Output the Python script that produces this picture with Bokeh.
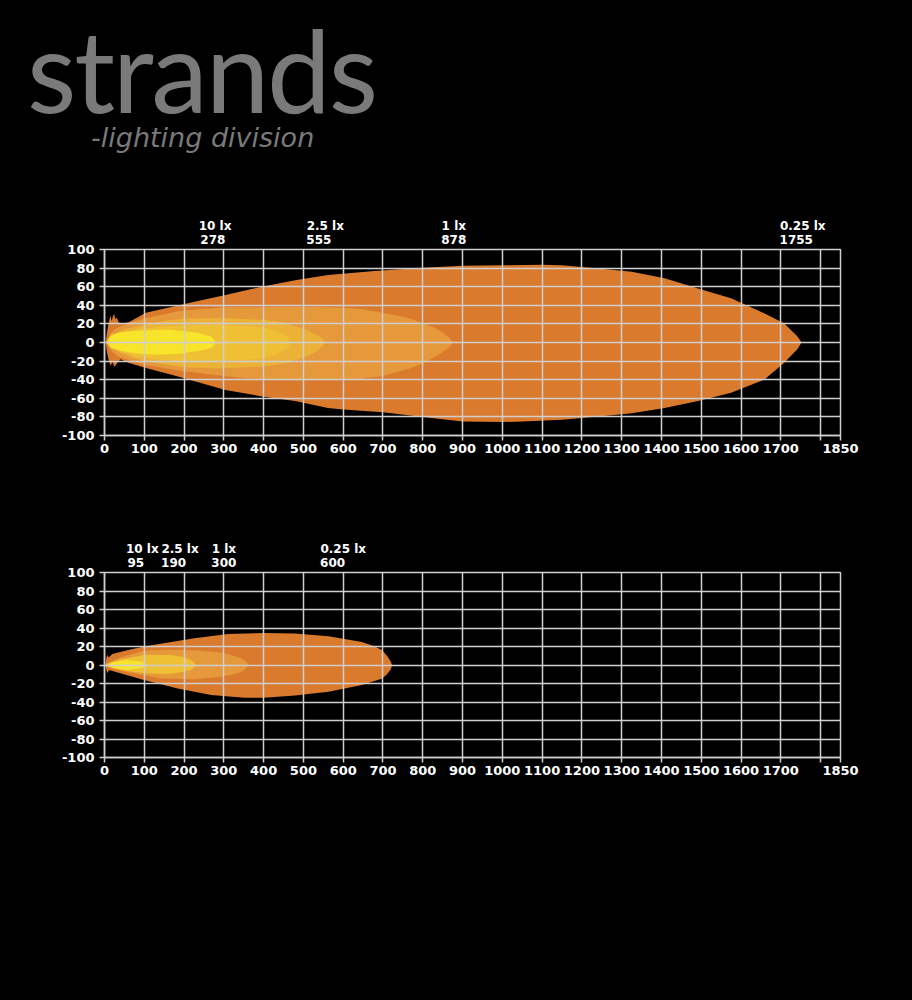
from bokeh.plotting import figure
from bokeh.models import Range1d, FixedTicker, LinearAxis, Div
from bokeh.layouts import column
from bokeh.embed import file_html
from bokeh.resources import INLINE

# ---------------- data ----------------
X_TICKS = [0, 100, 200, 300, 400, 500, 600, 700, 800, 900, 1000, 1100, 1200,
           1300, 1400, 1500, 1600, 1700, 1800, 1850]
X_LABELS = {1800: ""}
Y_TICKS = [-100, -80, -60, -40, -20, 0, 20, 40, 60, 80, 100]
Y_TICK_LABELS = ["-100", "-80", "-60", "-40", "-20", "0", "20", "40", "60", "80", "100"]
X_MAX = 1850
Y_MIN, Y_MAX = -100, 100

LEVELS = ["10 lx", "2.5 lx", "1 lx", "0.25 lx"]
C_10, C_5, C_25, C_1, C_025 = "#F7E42B", "#EFC033", "#ECB238", "#E6993A", "#DA7A2D"

# upper chart: distance (m) reached by each illuminance level
TOP_DIST = [278, 555, 878, 1755]
TOP_025_X = [3, 6, 9, 12, 15, 18, 21, 24, 27, 31, 35, 42, 62, 104, 171, 229, 304, 396, 479, 562, 679,
             800, 900, 1000, 1100, 1150, 1242, 1325, 1408, 1492, 1575, 1658, 1708, 1742, 1752,
             1742, 1708, 1658, 1575, 1492, 1408, 1325, 1242, 1150, 1050, 1000, 900, 800, 700,
             600, 562, 479, 396, 304, 229, 171, 104, 62, 40, 30, 25, 20, 15, 10, 6]
TOP_025_Y = [0, 10, 18, 24, 29, 23, 28, 31, 25, 27, 22, 20, 22, 32, 38.5, 44, 51, 60, 67, 72.5, 77,
             80.5, 82.5, 83, 83.5, 83, 79.5, 76, 69, 58, 47.5, 31.4, 20.7, 6.4, 0,
             -7, -22, -40, -54, -63, -70.5, -76, -79.5, -83, -85, -85.5, -85, -80, -75,
             -72, -70.5, -63, -58, -51, -42, -35, -27.5, -22, -18, -23, -26, -21, -25, -18, -10]
TOP_1_X = [8, 15, 29, 60, 104, 188, 304, 400, 500, 600, 642, 700, 767, 800, 833, 850, 865, 876,
           865, 850, 833, 800, 767, 700, 642, 600, 500, 400, 300, 200, 100, 33, 15, 8]
TOP_1_Y = [3, 10, 15, 21, 26, 34, 38, 38, 38.5, 37.5, 36, 32, 26, 21, 15, 11, 6, 0,
           -6, -10, -15, -22.5, -28, -36, -39, -40, -40.5, -40, -36, -31, -24, -15, -8, -3]
TOP_25_X = [8, 20, 50, 100, 150, 200, 300, 400, 450, 483, 510, 533, 548, 555,
            548, 533, 510, 483, 450, 400, 350, 283, 200, 158, 100, 75, 40, 15]
TOP_25_Y = [2, 8, 14, 19, 23, 25.5, 26, 24.5, 21.5, 17, 13, 8, 4, 0,
            -4, -9.5, -14.5, -18.5, -22.5, -25.7, -27, -27.6, -26.5, -24, -20, -17, -11, -5]
TOP_5_X = [8, 30, 80, 150, 250, 350, 400, 440, 460, 468,
           460, 440, 400, 350, 250, 150, 80, 30]
TOP_5_Y = [2, 8, 14, 17.5, 19, 18, 16, 11, 6, 0,
           -6, -11.5, -17, -19, -20, -19, -15, -8]
TOP_10_X = [5, 10, 17, 40, 75, 120, 158, 200, 225, 250, 267, 275, 279,
            275, 267, 250, 225, 200, 158, 120, 75, 40, 17, 10]
TOP_10_Y = [0, 4, 8, 11, 12.5, 13.5, 13.6, 12.5, 11, 9, 6.4, 3.5, 0,
            -3.5, -6, -8, -9.7, -11.5, -13, -13, -11.5, -9, -6, -3]

# lower chart
BOT_DIST = [95, 190, 300, 600]
BOT_025_X = [2, 4, 7, 10, 20, 57, 100, 141, 226, 310, 400, 479, 563, 647, 680, 698, 712, 719, 723,
             719, 710, 698, 647, 563, 479, 400, 352, 268, 184, 99, 40, 11, 8, 5]
BOT_025_Y = [0, 6, 11, 8, 12, 16, 20, 23, 29, 33.5, 34.5, 34, 31, 25, 20, 16, 9, 4, 0,
             -5, -10, -14.5, -21.6, -28.8, -33, -35.5, -35.5, -32.4, -25.3, -16.2, -9, -5.4, -9, -6]
BOT_1_X = [5, 40, 99, 160, 226, 280, 310, 340, 352, 358, 361,
           358, 344, 320, 293, 226, 141, 74, 30, 5]
BOT_1_Y = [2, 8, 15.5, 16.5, 16, 14, 12, 7.5, 5.4, 2.5, 0,
           -3, -7.2, -10.5, -12.6, -15.5, -14.5, -9, -5, -2]
BOT_25_X = [5, 40, 99, 167, 200, 217, 226, 230, 226, 217, 190, 158, 99, 40, 5]
BOT_25_Y = [1, 6, 10.8, 10.8, 8.5, 5.4, 2.5, 0, -2.5, -5.4, -8, -9.7, -9, -5.4, -1]
BOT_10_X = [5, 24, 57, 91, 102, 108, 102, 91, 57, 24]
BOT_10_Y = [0, 3.6, 5.4, 3.6, 2, 0, -2, -3.6, -5.4, -3.6]

LOGO = "strands"
TAGLINE = "-lighting division"

# ---------------- styling ----------------
GRID = "#cfcfcf"
FONT = "DejaVu Sans"
PAGE_W = 912
# DejaVu Sans Bold advance widths (em)
CHAR_W = {".": 0.38, " ": 0.348, "l": 0.343, "x": 0.663}
FIG_SP, PUNCT_SP = "\u2007", "\u2008"


def em_width(s):
    return sum(CHAR_W.get(c, 0.696) for c in s)


def pad(s, target):
    """pad a line with figure/punctuation spaces so that a centred block reads left-aligned"""
    d = target - em_width(s)
    n = int(d // 0.696)
    rest = d - n * 0.696
    return s + FIG_SP * n + (PUNCT_SP if rest > 0.19 else "")


def block(level, dist):
    a, b = level, str(dist)
    w = max(em_width(a), em_width(b))
    return f"{pad(a, w)}\n{pad(b, w)}"


def chart(height, left, right, top, bottom, dists):
    p = figure(width=PAGE_W, height=height, output_backend="svg", toolbar_location=None,
               x_range=Range1d(0, X_MAX), y_range=Range1d(Y_MIN, Y_MAX),
               min_border_left=left, min_border_right=right,
               min_border_top=top, min_border_bottom=bottom)
    p.background_fill_color = "black"
    p.border_fill_color = "black"
    p.outline_line_color = GRID
    p.outline_line_width = 1.5
    xax, yax = p.below[0], p.left[0]
    xax.ticker = FixedTicker(ticks=X_TICKS)
    xax.major_label_overrides = X_LABELS
    yax.ticker = FixedTicker(ticks=Y_TICKS)
    yax.major_label_overrides = dict(zip(Y_TICKS, Y_TICK_LABELS))
    for ax in (xax, yax):
        ax.axis_line_color = GRID
        ax.axis_line_width = 1.5
        ax.major_tick_line_color = GRID
        ax.major_tick_line_width = 1.5
        ax.major_tick_in = 0
        ax.major_tick_out = 5
        ax.minor_tick_line_color = None
        ax.major_label_text_color = "white"
        ax.major_label_text_font = FONT
        ax.major_label_text_font_style = "bold"
        ax.major_label_text_font_size = "13px"
    xax.major_label_standoff = 3
    yax.major_label_standoff = 5
    p.xgrid.ticker = FixedTicker(ticks=X_TICKS)
    p.ygrid.ticker = FixedTicker(ticks=Y_TICKS)
    for g in (p.xgrid[0], p.ygrid[0]):
        g.grid_line_color = GRID
        g.grid_line_width = 1.5
        g.level = "overlay"
    # illuminance / distance labels along the top
    lab = LinearAxis(ticker=FixedTicker(ticks=dists),
                     major_label_overrides={d: block(lv, d) for lv, d in zip(LEVELS, dists)})
    lab.axis_line_color = None
    lab.major_tick_line_color = None
    lab.minor_tick_line_color = None
    lab.major_tick_in = 0
    lab.major_tick_out = 0
    lab.major_label_standoff = 3
    lab.major_label_text_color = "white"
    lab.major_label_text_font = FONT
    lab.major_label_text_font_style = "bold"
    lab.major_label_text_font_size = "12px"
    lab.major_label_text_line_height = 1.0
    p.add_layout(lab, "above")
    return p


def add_beam(p, outlines):
    for xs, ys, c in outlines:
        p.patch(xs, ys, fill_color=c, line_color=None)


logo = Div(width=PAGE_W, height=190, margin=0, text=(
    f'<svg width="{PAGE_W}" height="190" xmlns="http://www.w3.org/2000/svg" style="display:block">'
    f'<text x="27" y="113" style="font-family:Lato;font-size:114px;letter-spacing:-2.2px;fill:#7a7a7a">{LOGO}</text>'
    f'<text x="91" y="147" style="font-family:\'DejaVu Sans\';font-style:italic;font-size:27px;fill:#7a7a7a">{TAGLINE}</text>'
    '</svg>'))
logo.styles = {"background-color": "black"}

top = chart(310, 104, 72, 59, 65, TOP_DIST)
add_beam(top, [(TOP_025_X, TOP_025_Y, C_025), (TOP_1_X, TOP_1_Y, C_1), (TOP_25_X, TOP_25_Y, C_25),
               (TOP_5_X, TOP_5_Y, C_5), (TOP_10_X, TOP_10_Y, C_10)])

bot = chart(500, 104, 72, 72, 243, BOT_DIST)
add_beam(bot, [(BOT_025_X, BOT_025_Y, C_025), (BOT_1_X, BOT_1_Y, C_1), (BOT_25_X, BOT_25_Y, C_5),
               (BOT_10_X, BOT_10_Y, C_10)])

page = column(logo, top, bot, spacing=0)
page.styles = {"background-color": "black"}

html = file_html(page, INLINE, title="strands beam pattern")
html = html.replace("</head>", "<style>html,body{background:#000;}</style></head>", 1)
open("out.html", "w").write(html)
